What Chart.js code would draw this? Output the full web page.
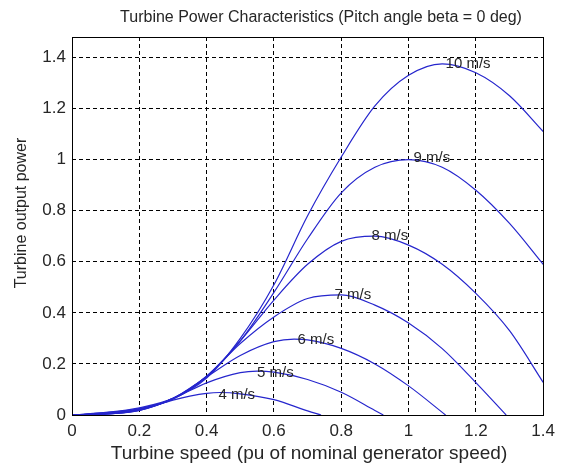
<!DOCTYPE html>
<html>
<head>
<meta charset="utf-8">
<script src="https://cdn.jsdelivr.net/npm/chart.js@4.4.1/dist/chart.umd.min.js"></script>
<style>
    html, body { margin: 0; padding: 0; background: #fff; }
    #wrap { width: 561px; height: 465px; }
</style>
</head>
<body>
<div id="wrap"><canvas id="powerChart"></canvas></div>
<script>
// turbine speed (pu) and output power (pu)
const x10 = [0, 0.1, 0.2, 0.3, 0.4, 0.5, 0.6, 0.7, 0.8, 0.9, 1.0, 1.1, 1.2, 1.3, 1.4];
const p10 = [0, 0.01, 0.028, 0.065, 0.145, 0.30, 0.51, 0.78, 1.01, 1.21, 1.33, 1.375, 1.34, 1.25, 1.11];

const x9 = [0, 0.1, 0.2, 0.3, 0.4, 0.5, 0.6, 0.7, 0.8, 0.9, 1.0, 1.1, 1.2, 1.3, 1.4];
const p9 = [0, 0.009, 0.025, 0.062, 0.15, 0.29, 0.48, 0.69, 0.87, 0.97, 1.0, 0.97, 0.88, 0.75, 0.59];

const x8 = [0, 0.1, 0.2, 0.3, 0.4, 0.5, 0.6, 0.7, 0.8, 0.9, 1.0, 1.1, 1.2, 1.3, 1.4];
const p8 = [0, 0.007, 0.023, 0.064, 0.152, 0.29, 0.45, 0.59, 0.68, 0.70, 0.665, 0.59, 0.476, 0.33, 0.128];

const x7 = [0, 0.1, 0.2, 0.3, 0.4, 0.5, 0.6, 0.7, 0.8, 0.9, 1.0, 1.1, 1.2, 1.29];
const p7 = [0, 0.006, 0.021, 0.065, 0.152, 0.28, 0.384, 0.456, 0.47, 0.43, 0.36, 0.26, 0.127, 0];

const x6 = [0, 0.1, 0.2, 0.3, 0.4, 0.5, 0.6, 0.66, 0.7, 0.8, 0.9, 1.0, 1.11];
const p6 = [0, 0.004, 0.018, 0.065, 0.149, 0.233, 0.287, 0.297, 0.294, 0.261, 0.20, 0.114, 0];

const x5 = [0, 0.1, 0.2, 0.3, 0.4, 0.5, 0.55, 0.6, 0.7, 0.8, 0.9, 0.925];
const p5 = [0, 0.0035, 0.018, 0.064, 0.126, 0.166, 0.172, 0.168, 0.139, 0.089, 0.018, 0];

const x4 = [0, 0.1, 0.2, 0.3, 0.35, 0.4, 0.44, 0.5, 0.6, 0.7, 0.74];
const p4 = [0, 0.003, 0.019, 0.058, 0.074, 0.085, 0.088, 0.083, 0.060, 0.016, 0];

// curve labels and where they sit (left end of text)
const windLabels = ['10 m/s', '9 m/s', '8 m/s', '7 m/s', '6 m/s', '5 m/s', '4 m/s'];
const labelX = [1.11, 1.015, 0.89, 0.78, 0.67, 0.55, 0.435];
const labelY = [1.375, 1.005, 0.70, 0.47, 0.295, 0.165, 0.08];

const xTicks = [0, 0.2, 0.4, 0.6, 0.8, 1, 1.2, 1.4];
const yTicks = [0, 0.2, 0.4, 0.6, 0.8, 1, 1.2, 1.4];

const TEXT = '#262626';
const LINE = 'rgb(38, 38, 205)';
const FONT = '"Liberation Sans", Arial, sans-serif';

function pts(xs, ys) {
    return xs.map((x, i) => ({ x: x, y: ys[i] }));
}

const curves = [[x10, p10], [x9, p9], [x8, p8], [x7, p7], [x6, p6], [x5, p5], [x4, p4]];

const decorPlugin = {
    id: 'decor',
    beforeDraw(chart) {
        const ctx = chart.ctx;
        ctx.save();
        ctx.fillStyle = '#fff';
        ctx.fillRect(0, 0, chart.width, chart.height);
        ctx.restore();
    },
    afterDatasetsDraw(chart) {
        const ctx = chart.ctx;
        const xs = chart.scales.x, ys = chart.scales.y;
        ctx.save();
        ctx.font = '15px ' + FONT;
        ctx.fillStyle = TEXT;
        ctx.textBaseline = 'middle';
        ctx.textAlign = 'left';
        windLabels.forEach((t, i) => {
            ctx.fillText(t, xs.getPixelForValue(labelX[i]), ys.getPixelForValue(labelY[i]));
        });
        ctx.restore();
    },
    afterDraw(chart) {
        const ctx = chart.ctx;
        const a = chart.chartArea;
        ctx.save();
        ctx.strokeStyle = '#000';
        ctx.lineWidth = 1;
        ctx.strokeRect(Math.round(a.left) + 0.5, Math.round(a.top) + 0.5,
            Math.round(a.right - a.left), Math.round(a.bottom - a.top));
        ctx.fillStyle = TEXT;
        ctx.textAlign = 'center';
        ctx.textBaseline = 'middle';
        ctx.font = '16px ' + FONT;
        ctx.fillText('Turbine Power Characteristics (Pitch angle beta = 0 deg)', 321, 18);
        ctx.font = '19px ' + FONT;
        ctx.fillText('Turbine speed (pu of nominal generator speed)', 309, 454);
        ctx.translate(22, 213);
        ctx.rotate(-Math.PI / 2);
        ctx.font = '16px ' + FONT;
        ctx.fillText('Turbine output power', 0, 0);
        ctx.restore();
    }
};

const ctx = document.getElementById('powerChart').getContext('2d');
new Chart(ctx, {
    type: 'line',
    data: {
        datasets: curves.map((c, i) => ({
            label: windLabels[i],
            data: pts(c[0], c[1]),
            borderColor: LINE,
            borderWidth: 1.2,
            pointRadius: 0,
            cubicInterpolationMode: 'monotone',
            fill: false
        }))
    },
    options: {
        responsive: true,
        maintainAspectRatio: false,
        animation: false,
        layout: { padding: { top: 37, right: 17, left: 0, bottom: 0 } },
        scales: {
            x: {
                type: 'linear',
                min: 0,
                max: 1.4,
                afterBuildTicks: s => { s.ticks = xTicks.map(v => ({ value: v })); },
                afterFit: s => { s.height = 50; },
                ticks: {
                    color: TEXT,
                    padding: 6,
                    maxRotation: 0,
                    font: { family: FONT, size: 17 },
                    callback: v => String(+v.toFixed(1))
                },
                grid: { color: '#000', lineWidth: 1, drawTicks: false },
                border: { display: false, dash: [4, 3] }
            },
            y: {
                type: 'linear',
                min: 0,
                max: 1.48,
                afterBuildTicks: s => { s.ticks = yTicks.map(v => ({ value: v })); },
                afterFit: s => { s.width = 72; },
                ticks: {
                    color: TEXT,
                    padding: 6,
                    font: { family: FONT, size: 17 },
                    callback: v => String(+v.toFixed(1))
                },
                grid: { color: '#000', lineWidth: 1, drawTicks: false },
                border: { display: false, dash: [4, 3] }
            }
        },
        plugins: {
            legend: { display: false },
            title: { display: false },
            tooltip: { enabled: false }
        }
    },
    plugins: [decorPlugin]
});
</script>
</body>
</html>
